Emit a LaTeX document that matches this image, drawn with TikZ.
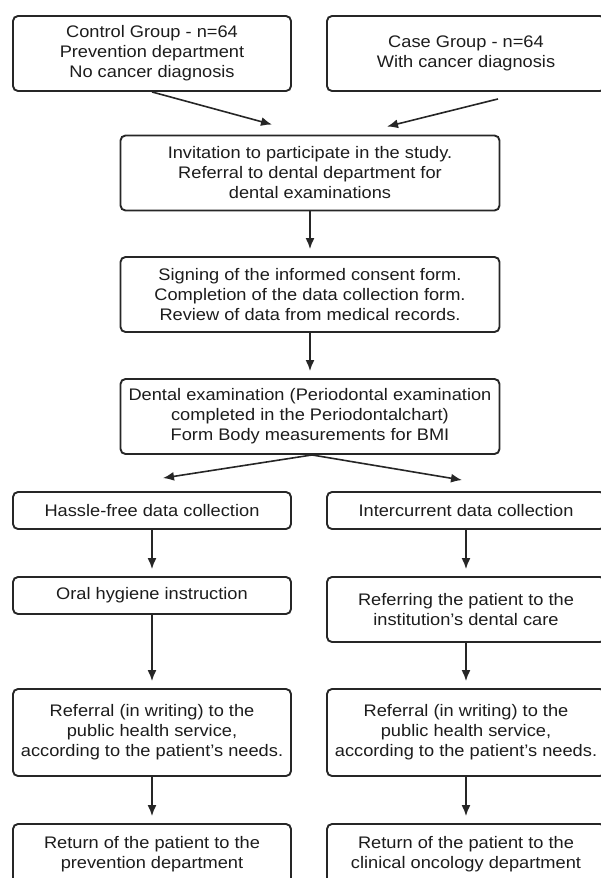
\documentclass[tikz,border=0pt]{standalone}
\usepackage{fontspec}
\setmainfont{Liberation Sans}[FakeStretch=1.09]
\usetikzlibrary{arrows.meta}

\begin{document}
\begin{tikzpicture}[x=0.5mm, y=-0.5mm]
    \def\sideWidth{139mm}
    \def\midWidth{189.5mm}

    \definecolor{borderColour}{HTML}{262626}
    \definecolor{textColour}{HTML}{1C1C1C}

    \tikzset{
        stageBox/.style={draw=borderColour, line width=0.95mm, rounded corners=2.5mm,
            align=center, text=textColour, inner sep=0pt,
            font=\fontsize{23.8pt}{28.45pt}\selectfont},
        sideBox/.style={stageBox, minimum width=\sideWidth},
        midBox/.style={stageBox, minimum width=\midWidth, minimum height=37.5mm},
        linkArrow/.style={draw=borderColour, line width=0.8mm, -{Latex[length=5.5mm,width=4.5mm]}}
    }

    % Page frame
    \clip (0,0) rectangle (601,878);

    % Study groups
    \node[sideBox, minimum height=37.5mm] (control) at (152,53.5) {Control Group - n=64\\Prevention department\\No cancer diagnosis};
    \node[sideBox, minimum height=37.5mm] (case) at (466,53.5) {Case Group - n=64\\With cancer diagnosis};

    % Common steps
    \node[midBox] (invite) at (310,173) {Invitation to participate in the study.\\Referral to dental department for\\dental examinations};
    \node[midBox] (consent) at (310,294.5) {Signing of the informed consent form.\\Completion of the data collection form.\\Review of data from medical records.};
    \node[midBox] (dental) at (310,416.5) {Dental examination (Periodontal examination\\completed in the Periodontalchart)\\Form Body measurements for BMI};

    % Left branch
    \node[sideBox, minimum height=18.5mm] (hassle) at (152,510.5) {Hassle-free data collection};
    \node[sideBox, minimum height=18.5mm] (oral) at (152,595.5) {Oral hygiene instruction};
    \node[sideBox, minimum height=43.5mm] (referralL) at (152,732.5) {Referral (in writing) to the\\public health service,\\according to the patient's needs.};
    \node[sideBox, minimum height=30mm] (returnL) at (152,854) {Return of the patient to the\\prevention department};

    % Right branch
    \node[sideBox, minimum height=18.5mm] (inter) at (466,510.5) {Intercurrent data collection};
    \node[sideBox, minimum height=32.5mm] (referring) at (466,609.5) {Referring the patient to the\\institution's dental care};
    \node[sideBox, minimum height=43.5mm] (referralR) at (466,732.5) {Referral (in writing) to the\\public health service,\\according to the patient's needs.};
    \node[sideBox, minimum height=30mm] (returnR) at (466,854) {Return of the patient to the\\clinical oncology department};

    % Groups into invitation
    \coordinate (controlTip) at ([shift={(-38,-10)}]invite.north);
    \coordinate (caseTip) at ([shift={(77,-8)}]invite.north);
    \draw[linkArrow] (control.south) -- (controlTip);
    \draw[linkArrow] ([shift={(32,7)}]case.south) -- (caseTip);

    % Split after the dental examination
    \coordinate (hassleTip) at ([shift={(11,-13)}]hassle.north);
    \coordinate (interTip) at ([shift={(-4,-11)}]inter.north);
    \draw[linkArrow] ([xshift=1mm]dental.south) -- (hassleTip);
    \draw[linkArrow] ([xshift=1mm]dental.south) -- (interTip);

    % Straight steps
    \foreach \from/\to in {invite/consent, consent/dental, hassle/oral, inter/referring,
                           oral/referralL, referring/referralR, referralL/returnL, referralR/returnR}
        \draw[linkArrow, shorten >=3.5mm] (\from) -- (\to);

\end{tikzpicture}
\end{document}
